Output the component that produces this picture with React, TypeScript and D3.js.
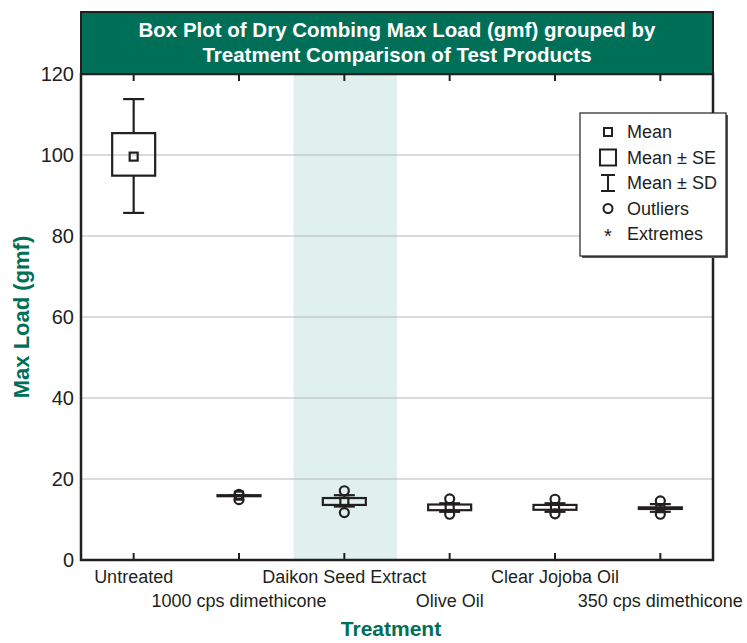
import * as d3 from 'd3'

const treatments = [
  'Untreated',
  '1000 cps dimethicone',
  'Daikon Seed Extract',
  'Olive Oil',
  'Clear Jojoba Oil',
  '350 cps dimethicone',
]
const means = [99.6, 15.9, 14.4, 13.0, 13.0, 12.8]
const seLow = [94.9, 15.8, 13.6, 12.3, 12.4, 12.6]
const seHigh = [105.4, 16.0, 15.3, 13.7, 13.6, 13.0]
const sdLow = [85.7, 15.9, 13.2, 11.9, 11.9, 11.9]
const sdHigh = [113.8, 15.9, 16.0, 14.0, 14.0, 13.8]
const outliers: number[][] = [[], [16.2, 14.9], [17.1, 11.7], [15.1, 11.3], [15.0, 11.4], [14.6, 11.3]]
const yTicks = [0, 20, 40, 60, 80, 100, 120]
const legendItems = ['Mean', 'Mean ± SE', 'Mean ± SD', 'Outliers', 'Extremes']

const TEAL = '#006f58'
const FONT = "'Liberation Sans Narrow', 'Arial Narrow', 'Liberation Sans', sans-serif"

export default function App() {
  const margin = { left: 81, right: 713, top: 74, bottom: 560 }
  const x = d3.scaleBand<string>().domain(treatments).range([margin.left, margin.right])
  const y = d3.scaleLinear().domain([0, 120]).range([margin.bottom, margin.top])
  const cx = (t: string) => (x(t) as number) + x.bandwidth() / 2
  const boxW = 43
  const capW = 21
  const highlight = treatments[2]

  return (
    <svg width={747} height={643} style={{ position: 'absolute', left: 0, top: 0 }} fontFamily={FONT}>
      <rect width={747} height={643} fill="#fff" />
      {/* highlighted column */}
      <rect x={(x(highlight) as number) + 2} y={margin.top} width={x.bandwidth() - 2} height={margin.bottom - margin.top} fill="#e0f1ed" />
      {/* grid */}
      {yTicks.slice(1, -1).map(t => (
        <line key={t} x1={margin.left} x2={margin.right} y1={y(t)} y2={y(t)} stroke="#b8b8b8" strokeWidth={1.2} />
      ))}
      {/* boxes */}
      {treatments.map((t, i) => {
        const c = cx(t)
        return (
          <g key={t} stroke="#231f20" fill="none" strokeWidth={2.2}>
            <line x1={c} x2={c} y1={y(sdHigh[i])} y2={y(seHigh[i])} />
            <line x1={c} x2={c} y1={y(seLow[i])} y2={y(sdLow[i])} />
            <line x1={c - capW / 2} x2={c + capW / 2} y1={y(sdHigh[i])} y2={y(sdHigh[i])} />
            <line x1={c - capW / 2} x2={c + capW / 2} y1={y(sdLow[i])} y2={y(sdLow[i])} />
            <rect x={c - boxW / 2} y={y(seHigh[i])} width={boxW} height={Math.max(1, y(seLow[i]) - y(seHigh[i]))} />
            <rect x={c - 4} y={y(means[i]) - 4} width={8} height={8} />
            {outliers[i].map((o, j) => (
              <circle key={j} cx={c} cy={y(o)} r={4.5} />
            ))}
          </g>
        )
      })}
      {/* ticks */}
      {treatments.map(t => (
        <g key={t} stroke="#231f20" strokeWidth={2}>
          <line x1={cx(t)} x2={cx(t)} y1={margin.top} y2={margin.top + 7} />
          <line x1={cx(t)} x2={cx(t)} y1={margin.bottom} y2={margin.bottom - 7} />
        </g>
      ))}
      {/* frame */}
      <rect x={margin.left} y={margin.top} width={margin.right - margin.left} height={margin.bottom - margin.top} fill="none" stroke="#231f20" strokeWidth={2.5} />
      {/* title */}
      <rect x={margin.left} y={12} width={margin.right - margin.left} height={margin.top - 12} fill={TEAL} stroke="#231f20" strokeWidth={2} />
      <text x={(margin.left + margin.right) / 2} y={37} textAnchor="middle" fill="#fff" fontWeight="bold" fontSize={20.5}>
        Box Plot of Dry Combing Max Load (gmf) grouped by
      </text>
      <text x={(margin.left + margin.right) / 2} y={62} textAnchor="middle" fill="#fff" fontWeight="bold" fontSize={20.5}>
        Treatment Comparison of Test Products
      </text>
      {/* y tick labels */}
      {yTicks.map(t => (
        <text key={t} x={74} y={y(t) + 7} textAnchor="end" fontSize={20} fill="#231f20">
          {t}
        </text>
      ))}
      {/* x labels */}
      {treatments.map((t, i) => (
        <text key={t} x={cx(t)} y={i % 2 === 0 ? 583 : 607} textAnchor="middle" fontSize={18} fill="#231f20">
          {t}
        </text>
      ))}
      <text x={391} y={636} textAnchor="middle" fill={TEAL} fontWeight="bold" fontSize={21}>
        Treatment
      </text>
      <text transform={`translate(29,${(margin.top + margin.bottom) / 2}) rotate(-90)`} textAnchor="middle" fill={TEAL} fontWeight="bold" fontSize={22}>
        Max Load (gmf)
      </text>
      {/* legend */}
      <g>
        <rect x={582} y={115} width={146} height={143} fill="#555" />
        <rect x={580} y={113} width={146} height={143} fill="#fff" stroke="#231f20" strokeWidth={1.2} />
        {legendItems.map((l, i) => {
          const ly = 132 + i * 25.5
          const ix = 608
          return (
            <g key={l}>
              {i === 0 && <rect x={ix - 4} y={ly - 4} width={8} height={8} fill="none" stroke="#231f20" strokeWidth={2} />}
              {i === 1 && <rect x={ix - 8} y={ly - 8} width={16} height={16} fill="none" stroke="#231f20" strokeWidth={2} />}
              {i === 2 && (
                <g stroke="#231f20" strokeWidth={2}>
                  <line x1={ix - 7} x2={ix + 7} y1={ly - 8} y2={ly - 8} />
                  <line x1={ix} x2={ix} y1={ly - 8} y2={ly + 8} />
                  <line x1={ix - 7} x2={ix + 7} y1={ly + 8} y2={ly + 8} />
                </g>
              )}
              {i === 3 && <circle cx={ix} cy={ly} r={4.5} fill="none" stroke="#231f20" strokeWidth={2} />}
              {i === 4 && (
                <text x={ix} y={ly + 9} textAnchor="middle" fontSize={20} fill="#231f20">
                  *
                </text>
              )}
              <text x={627} y={ly + 6} fontSize={18} fill="#231f20">
                {l}
              </text>
            </g>
          )
        })}
      </g>
    </svg>
  )
}
